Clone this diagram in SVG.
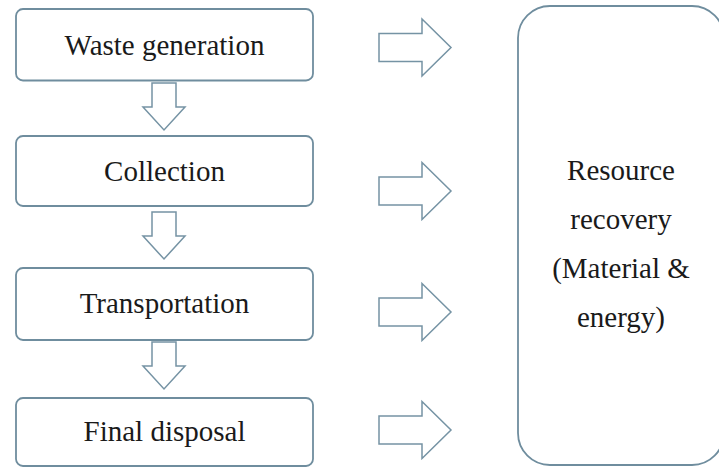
<svg xmlns="http://www.w3.org/2000/svg" width="719" height="468" viewBox="0 0 719 468">
  <style>
    .box { fill: #ffffff; stroke: #6f8d9e; stroke-width: 1.8; }
    .arrow { fill: #ffffff; stroke: #7593a4; stroke-width: 1.5; stroke-linejoin: miter; }
    .label { font-family: "Liberation Serif", "Times New Roman", serif; font-size: 29px; fill: #1a1a1a; text-anchor: middle; }
  </style>
  <defs>
    <!-- block arrow pointing down, tip at origin -->
    <path id="down" d="M -12 -47 L 12 -47 L 12 -23 L 21 -23 L 0 0 L -21 -23 L -12 -23 Z"/>
    <!-- block arrow pointing right, tip at origin -->
    <path id="right" d="M -72 -14 L -29 -14 L -29 -28.5 L 0 0 L -29 28.5 L -29 14 L -72 14 Z"/>
  </defs>
  <rect width="719" height="468" fill="#ffffff"/>

  <g id="connectors">
    <use href="#down" class="arrow" x="164" y="130"/>
    <use href="#down" class="arrow" x="164" y="259"/>
    <use href="#down" class="arrow" x="164" y="389"/>
    <use href="#right" class="arrow" x="451" y="47.5"/>
    <use href="#right" class="arrow" x="451" y="191"/>
    <use href="#right" class="arrow" x="451" y="312"/>
    <use href="#right" class="arrow" x="451" y="430"/>
  </g>

  <g id="waste-generation">
    <rect class="box" x="16" y="9" width="297" height="71.5" rx="7"/>
    <text class="label" x="164.5" y="55">Waste generation</text>
  </g>
  <g id="collection">
    <rect class="box" x="16" y="136" width="297" height="70" rx="7"/>
    <text class="label" x="164.5" y="181">Collection</text>
  </g>
  <g id="transportation">
    <rect class="box" x="16" y="268" width="297" height="72" rx="7"/>
    <text class="label" x="164.5" y="313">Transportation</text>
  </g>
  <g id="final-disposal">
    <rect class="box" x="16" y="398" width="297" height="68" rx="7"/>
    <text class="label" x="164.5" y="441">Final disposal</text>
  </g>

  <g id="resource-recovery">
    <rect class="box" x="518" y="6" width="206" height="459" rx="32"/>
    <text class="label" x="621" y="180">Resource</text>
    <text class="label" x="621" y="229">recovery</text>
    <text class="label" x="621" y="278">(Material &amp;</text>
    <text class="label" x="621" y="327">energy)</text>
  </g>
</svg>
